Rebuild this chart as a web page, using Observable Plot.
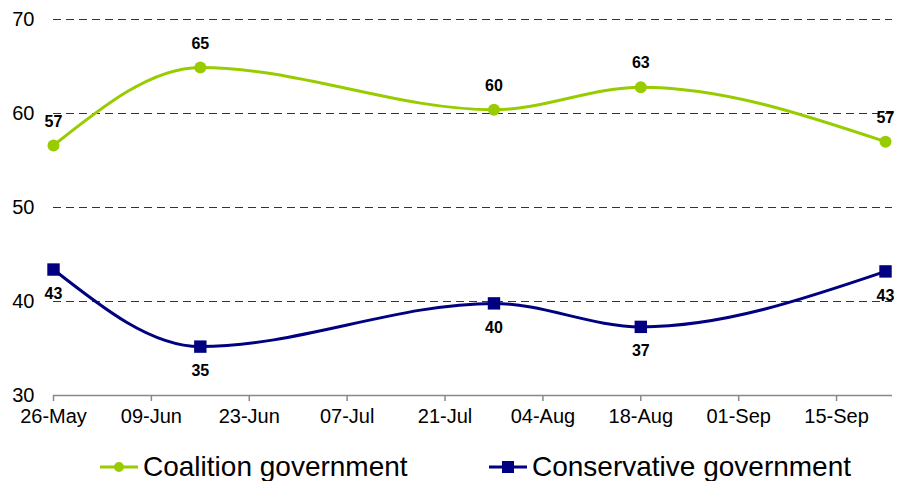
<!DOCTYPE html>
<html><head><meta charset="utf-8">
<script src="https://cdn.jsdelivr.net/npm/d3@7"></script>
<script src="https://cdn.jsdelivr.net/npm/@observablehq/plot@0.6"></script>
<style>
body{margin:0;background:#fff;font-family:Arial,"Liberation Sans",sans-serif;}
#wrap{position:relative;width:902px;height:481px;overflow:hidden;}
.leg{position:absolute;top:452px;height:30px;line-height:30px;display:flex;align-items:center;font-size:28px;color:#000;white-space:nowrap;}
.leg svg{margin-right:5px;}
</style>
</head><body>
<div id="wrap"><div id="chart"></div>
<div class="leg" style="left:100px"><svg width="38" height="14"><line x1="0" y1="7" x2="38" y2="7" stroke="#99CC00" stroke-width="3"/><circle cx="19" cy="7" r="5" fill="#99CC00"/></svg>Coalition government</div>
<div class="leg" style="left:489px"><svg width="38" height="14"><line x1="0" y1="7" x2="38" y2="7" stroke="#000080" stroke-width="3"/><rect x="13" y="1" width="12" height="12" fill="#000080"/></svg>Conservative government</div>
</div>
<script>
const dates = ["2010-05-26","2010-06-16","2010-07-28","2010-08-18","2010-09-22"];
const coalition = [56.6, 64.9, 60.4, 62.8, 57.0];
const coalitionLabels = ["57","65","60","63","57"];
const conservative = [43.4, 35.2, 39.8, 37.3, 43.2];
const conservativeLabels = ["43","35","40","37","43"];
const yTicks = [30, 40, 50, 60, 70];
const xTicks = ["2010-05-26","2010-06-09","2010-06-23","2010-07-07","2010-07-21","2010-08-04","2010-08-18","2010-09-01","2010-09-15"];
const xDomain = ["2010-05-26","2010-09-23"];

const parse = d3.utcParse("%Y-%m-%d");
const green = dates.map((d,i)=>({date: parse(d), value: coalition[i], label: coalitionLabels[i]}));
const blue = dates.map((d,i)=>({date: parse(d), value: conservative[i], label: conservativeLabels[i]}));

const plot = Plot.plot({
  width: 902,
  height: 440,
  marginLeft: 53,
  marginRight: 10,
  marginTop: 19,
  marginBottom: 45,
  style: {fontFamily: "Arial, 'Liberation Sans', sans-serif", background: "#fff", color: "#000"},
  x: {type: "utc", domain: xDomain.map(parse), label: null},
  y: {domain: [30, 70], label: null},
  marks: [
    Plot.ruleY(yTicks.filter(d => d > 30), {stroke: "#333", strokeWidth: 1, strokeDasharray: "8,5"}),
    Plot.ruleY([30], {stroke: "#888", strokeWidth: 1.5}),
    Plot.axisY({ticks: yTicks, tickSize: 0, tickPadding: 19, fontSize: 20, tickFormat: d => d, label: null}),
    Plot.axisX({ticks: xTicks.map(parse), tickFormat: d3.utcFormat("%d-%b"), tickSize: 6, tickPadding: 7, stroke: "#888", strokeWidth: 1.5, fontSize: 20, label: null}),
    Plot.line(green, {x: "date", y: "value", stroke: "#99CC00", strokeWidth: 3, curve: "monotone-x"}),
    Plot.line(blue, {x: "date", y: "value", stroke: "#000080", strokeWidth: 3, curve: "monotone-x"}),
    Plot.dot(green, {x: "date", y: "value", fill: "#99CC00", r: 6, symbol: "circle"}),
    Plot.dot(blue, {x: "date", y: "value", fill: "#000080", r: 7, symbol: "square"}),
    Plot.text(green, {x: "date", y: "value", text: "label", dy: -24, fontSize: 16, fontWeight: "bold", fill: "#000"}),
    Plot.text(blue, {x: "date", y: "value", text: "label", dy: 24, fontSize: 16, fontWeight: "bold", fill: "#000"})
  ]
});
document.getElementById("chart").appendChild(plot);
</script>
</body></html>
